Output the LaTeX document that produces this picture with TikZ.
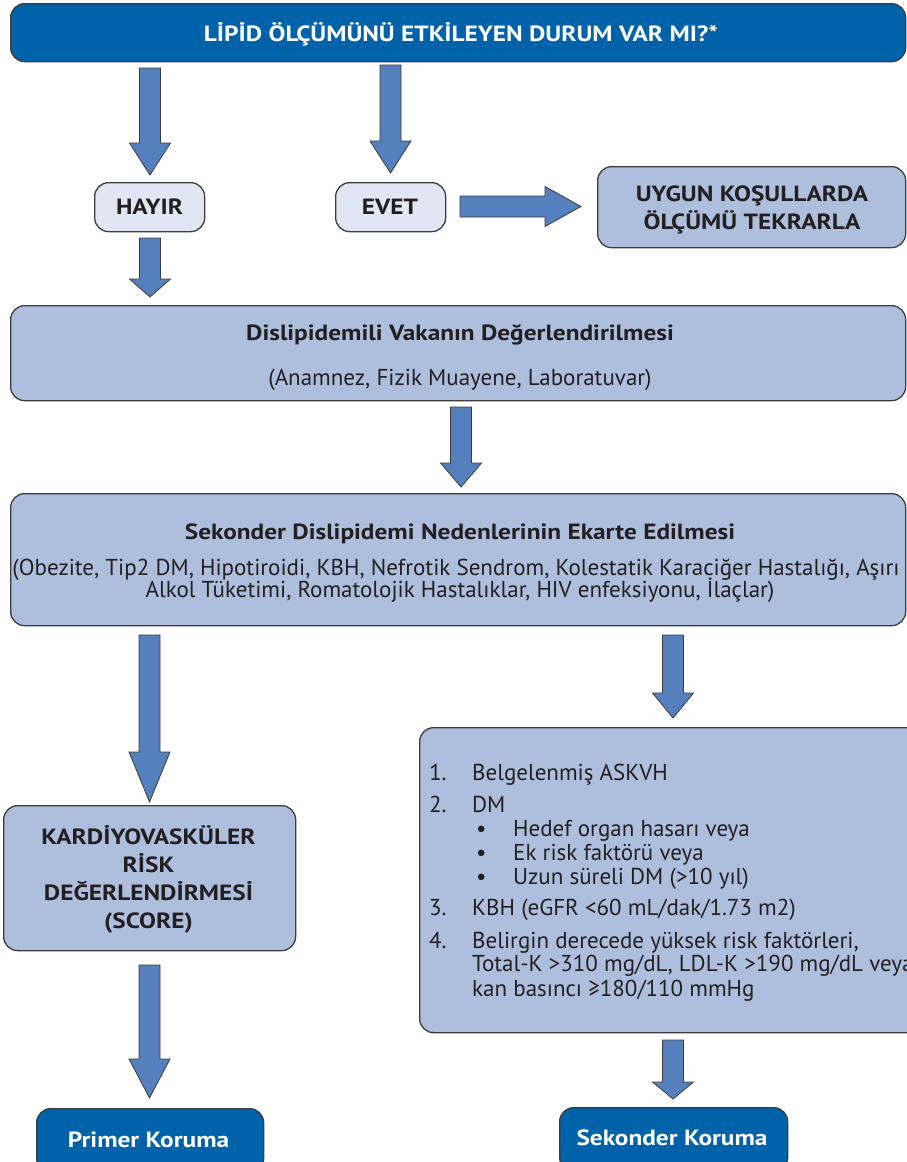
\documentclass[tikz,border=0pt]{standalone}
\usepackage{fontspec}
\setmainfont{PT Sans}[BoldFeatures={FakeStretch=1.15}]
\usetikzlibrary{calc}
\definecolor{darkblue}{HTML}{0062A8}
\definecolor{arrowblue}{HTML}{5580BD}
\definecolor{lightfill}{HTML}{AEBFDE}
\definecolor{palefill}{HTML}{E0E6F2}
\definecolor{edgegray}{HTML}{3C3C3C}
\definecolor{textdark}{HTML}{231F20}
\tikzset{
  box/.style={draw=edgegray, line width=1.3pt, rounded corners=14pt, anchor=north west, inner sep=0pt},
  darkbox/.style={box, fill=darkblue},
  lightbox/.style={box, fill=lightfill},
  palebox/.style={box, fill=palefill},
  fat/.style={draw=edgegray, line width=0.8pt, fill=arrowblue, line join=miter},
  bt/.style={inner sep=0pt, anchor=base, text=textdark, font=\bfseries\fontsize{22}{24}\selectfont},
  wt/.style={bt, text=white},
  rt/.style={inner sep=0pt, anchor=base, text=textdark, font=\fontsize{23}{24}\selectfont},
  lt/.style={rt, anchor=base west},
}
\newcommand\fatdown[3]{%
  \path[fat] let \p1=(#1), \p2=(#2) in
    (\x1-10.5pt,\y1) -- (\x1+10.5pt,\y1) -- (\x1+10.5pt,\y2+#3pt) -- (\x1+20.5pt,\y2+#3pt)
    -- (\x1,\y2) -- (\x1-20.5pt,\y2+#3pt) -- (\x1-10.5pt,\y2+#3pt) -- cycle;}
\newcommand\fatright[3]{%
  \path[fat] let \p1=(#1), \p2=(#2) in
    (\x1,\y1+10.5pt) -- (\x2-#3pt,\y1+10.5pt) -- (\x2-#3pt,\y1+20pt) -- (\x2,\y1)
    -- (\x2-#3pt,\y1-20pt) -- (\x2-#3pt,\y1-10.5pt) -- (\x1,\y1-10.5pt) -- cycle;}
\begin{document}
\begin{tikzpicture}[x=1pt,y=-1pt]
\useasboundingbox (0,0) rectangle (907,1162);
\clip (0,0) rectangle (907,1162);
% boxes
\node[darkbox, minimum width=895pt, minimum height=58pt] (top) at (10,3) {};
\node[palebox, minimum width=110pt, minimum height=49pt] (hayir) at (94,182) {};
\node[palebox, minimum width=110pt, minimum height=49pt] (evet) at (335,182) {};
\node[lightbox, minimum width=308pt, minimum height=81pt] (uygun) at (597,166) {};
\node[lightbox, minimum width=895pt, minimum height=95pt] (dis) at (10,305) {};
\node[lightbox, minimum width=895pt, minimum height=132pt] (sek) at (10,493) {};
\node[lightbox, minimum width=292pt, minimum height=145pt] (kard) at (3,805) {};
\node[lightbox, minimum width=520pt, minimum height=305pt] (list) at (419,727) {};
\node[darkbox, minimum width=227pt, minimum height=64pt] (primer) at (36,1108) {};
\node[darkbox, minimum width=228pt, minimum height=64pt] (sekk) at (559,1107) {};
% texts
\node[wt] (ttop) at (461,41) {LİPİD ÖLÇÜMÜNÜ ETKİLEYEN DURUM VAR MI?*};
\node[bt] (thayir) at (149.5,214) {HAYIR};
\node[bt] (tevet) at (390,214) {EVET};
\node[bt] (tuy1) at (752,201) {UYGUN KOŞULLARDA};
\node[bt] (tuy2) at (752,229) {ÖLÇÜMÜ TEKRARLA};
\node[bt] (tdis1) at (460,340.7) {Dislipidemili Vakanın Değerlendirilmesi};
\node[rt] (tdis2) at (460,385) {(Anamnez, Fizik Muayene, Laboratuvar)};
\node[bt] (tsek1) at (460,539) {Sekonder Dislipidemi Nedenlerinin Ekarte Edilmesi};
\node[rt] (tsek2) at (456,575) {(Obezite, Tip2 DM, Hipotiroidi, KBH, Nefrotik Sendrom, Kolestatik Karaciğer Hastalığı, Aşırı};
\node[rt] (tsek3) at (460,597) {Alkol Tüketimi, Romatolojik Hastalıklar, HIV enfeksiyonu, İlaçlar)};
\node[bt] (tk1) at (148.5,844) {KARDİYOVASKÜLER};
\node[bt] (tk2) at (148.5,872) {RİSK};
\node[bt] (tk3) at (148.5,900) {DEĞERLENDİRMESİ};
\node[bt] (tk4) at (148.5,928) {(SCORE)};
\node[wt] (tprim) at (148.5,1147) {Primer Koruma};
\node[wt] (tsekk) at (672,1145) {Sekonder Koruma};
% list
\node[lt] (n1) at (429,780.7) {1.};
\node[lt] (l1) at (472,780.7) {Belgelenmiş ASKVH};
\node[lt] (n2) at (429,812.7) {2.};
\node[lt] (l2) at (472,812.7) {DM};
\node[lt] (b1) at (476,836.7) {•};
\node[lt] (l21) at (513,836.7) {Hedef organ hasarı veya};
\node[lt] (b2) at (476,860) {•};
\node[lt] (l22) at (513,860) {Ek risk faktörü veya};
\node[lt] (b3) at (476,884) {•};
\node[lt] (l23) at (513,884) {Uzun süreli DM (>10 yıl)};
\node[lt] (n3) at (429,915) {3.};
\node[lt] (l3) at (472,915) {KBH (eGFR <60 mL/dak/1.73 m2)};
\node[lt] (n4) at (429,948) {4.};
\node[lt] (l4) at (472,948) {Belirgin derecede yüksek risk faktörleri,};
\node[lt] (l4b) at (472,971.7) {Total-K >310 mg/dL, LDL-K >190 mg/dL veya};
\node[lt] (l4c) at (472,996) {kan basıncı ≥180/110 mmHg};
% arrows
\coordinate (a1s) at (150,68);   \coordinate (a1e) at (150,175);
\coordinate (a2s) at (390.5,65); \coordinate (a2e) at (390.5,173);
\coordinate (a3s) at (150,238);  \coordinate (a3e) at (150,297);
\coordinate (a4s) at (461,407);  \coordinate (a4e) at (461,487);
\coordinate (a5s) at (149.5,635);\coordinate (a5e) at (149.5,802);
\coordinate (a6s) at (673,635);  \coordinate (a6e) at (673,718);
\coordinate (a7s) at (149.5,965);\coordinate (a7e) at (149.5,1098);
\coordinate (a8s) at (673,1040); \coordinate (a8e) at (673,1099);
\coordinate (ahs) at (460,206.5);\coordinate (ahe) at (581,206.5);
\fatdown{a1s}{a1e}{32}
\fatdown{a2s}{a2e}{32}
\fatdown{a3s}{a3e}{18}
\fatdown{a4s}{a4e}{24}
\fatdown{a5s}{a5e}{50}
\fatdown{a6s}{a6e}{25}
\fatdown{a7s}{a7e}{39}
\fatdown{a8s}{a8e}{17}
\fatright{ahs}{ahe}{36}
\end{tikzpicture}
\end{document}
